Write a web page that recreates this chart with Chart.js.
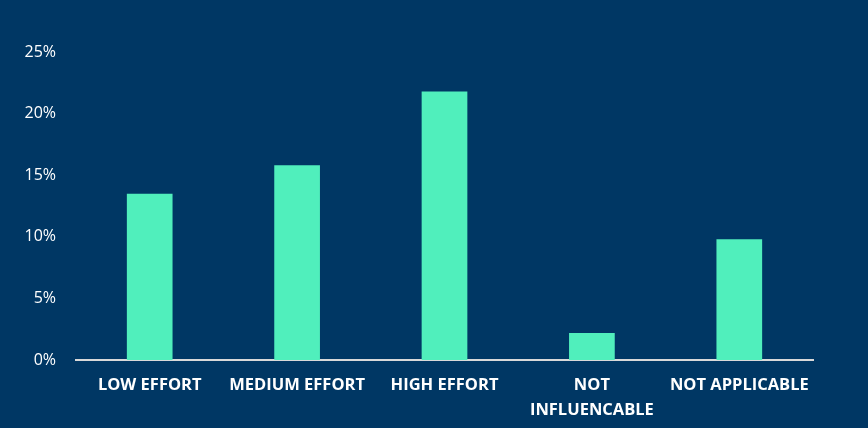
<!DOCTYPE html>
<html>
<head>
<meta charset="utf-8">
<script src="https://cdn.jsdelivr.net/npm/chart.js@4"></script>
<style>
    html, body { margin: 0; padding: 0; background: #003764; }
    #wrap { width: 868px; height: 428px; }
</style>
</head>
<body>
<div id="wrap"><canvas id="effort-chart"></canvas></div>
<script>
// --- data ---
const categories = ['LOW EFFORT', 'MEDIUM EFFORT', 'HIGH EFFORT', ['NOT', 'INFLUENCABLE'], 'NOT APPLICABLE'];
const shares = [13.5, 15.8, 21.8, 2.2, 9.8];
const yTicks = [0, 5, 10, 15, 20, 25];

const textColor = '#ffffff';
const barColor = '#50efbc';

Chart.defaults.font.family = '"Open Sans", "Noto Sans", sans-serif';
Chart.defaults.color = textColor;

const ctx = document.getElementById('effort-chart').getContext('2d');
new Chart(ctx, {
    type: 'bar',
    data: {
        labels: categories,
        datasets: [{
            data: shares,
            backgroundColor: barColor,
            borderWidth: 0,
            categoryPercentage: 1,
            barPercentage: 0.31
        }]
    },
    options: {
        responsive: true,
        maintainAspectRatio: false,
        animation: false,
        layout: { padding: { top: 52, right: 55, bottom: 0, left: 0 } },
        scales: {
            x: {
                grid: { display: false, drawTicks: false },
                border: { display: true, color: '#d9d9d9', width: 2 },
                ticks: {
                    color: textColor,
                    font: { size: 16.5, weight: 'bold', lineHeight: 1.5 },
                    padding: 13,
                    maxRotation: 0,
                    autoSkip: false
                },
                afterFit: (scale) => { scale.height = 68; }
            },
            y: {
                min: 0,
                max: 25,
                grid: { display: false, drawTicks: false },
                border: { display: false },
                afterBuildTicks: (scale) => { scale.ticks = yTicks.map(v => ({ value: v })); },
                ticks: {
                    color: textColor,
                    font: { size: 16 },
                    padding: 20,
                    callback: (v) => v + '%'
                },
                afterFit: (scale) => { scale.width = 76; }
            }
        },
        plugins: {
            legend: { display: false },
            tooltip: { enabled: false }
        }
    }
});
</script>
</body>
</html>
